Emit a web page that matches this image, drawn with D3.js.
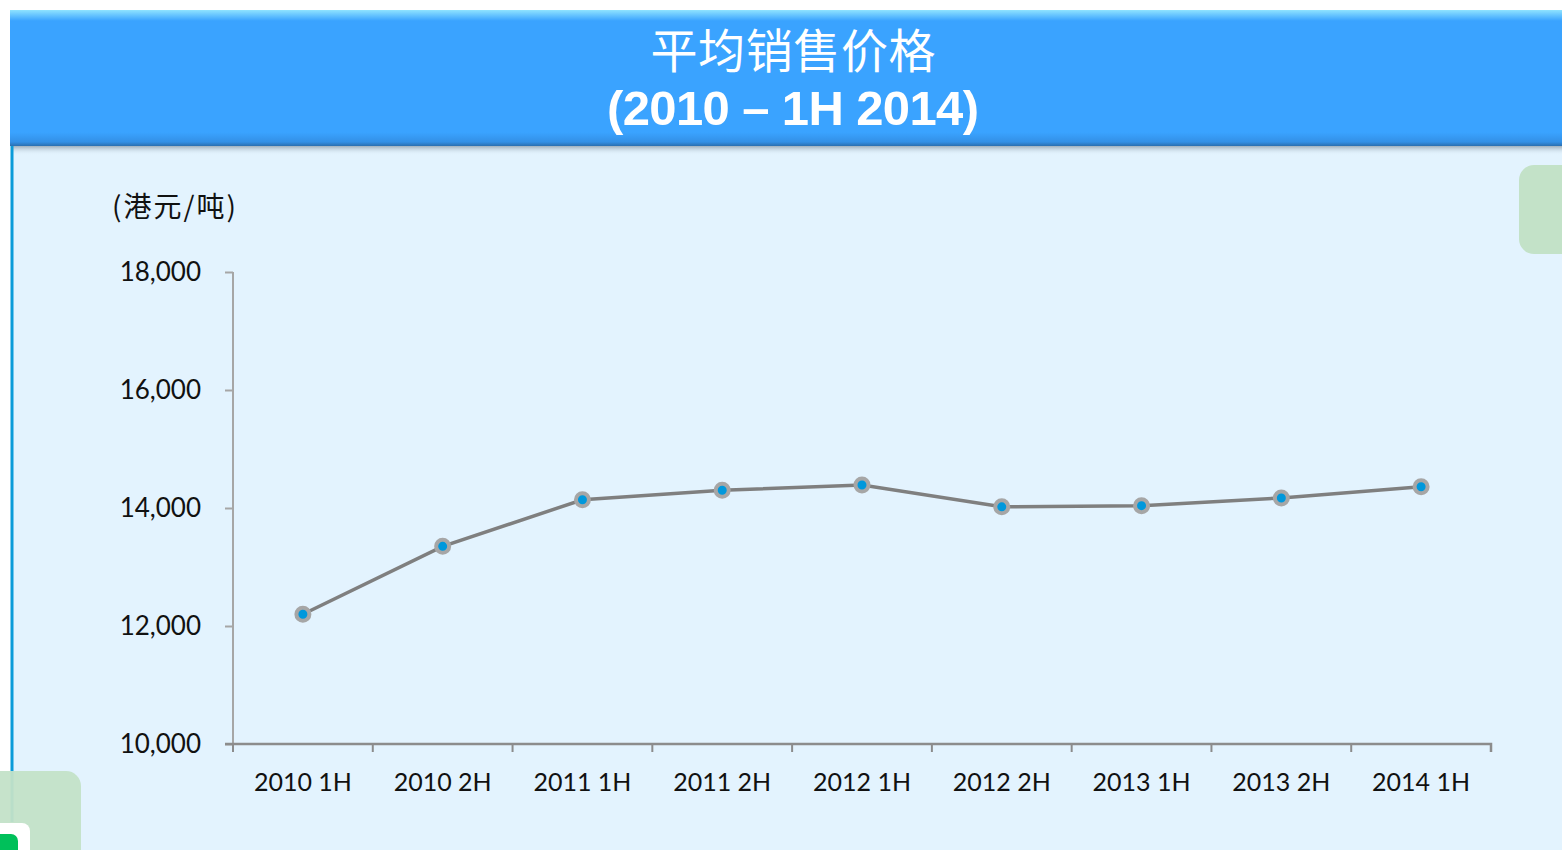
<!DOCTYPE html>
<html>
<head>
<meta charset="utf-8">
<script src="https://cdn.jsdelivr.net/npm/d3@7"></script>
<style>
  html, body { margin: 0; padding: 0; background: #fff; }
  svg { display: block; }
</style>
</head>
<body>
<script>
// data
const periods = ["2010 1H", "2010 2H", "2011 1H", "2011 2H", "2012 1H", "2012 2H", "2013 1H", "2013 2H", "2014 1H"];
const prices = [12200, 13350, 14140, 14300, 14390, 14020, 14040, 14170, 14360];
const yTicks = [10000, 12000, 14000, 16000, 18000];
const titleLines = ["平均销售价格", "(2010 – 1H 2014)"];
const unitLabel = "(港元/吨)";

const width = 1562;
const height = 850;
const plot = { left: 233, right: 1491, top: 272, bottom: 744 };

const svg = d3.select("body").append("svg")
  .attr("width", width)
  .attr("height", height);

const defs = svg.append("defs");
const grad = defs.append("linearGradient")
  .attr("id", "head").attr("x1", 0).attr("y1", 0).attr("x2", 0).attr("y2", 1);
grad.append("stop").attr("offset", "0").attr("stop-color", "#8fe3ff");
grad.append("stop").attr("offset", "0.08").attr("stop-color", "#3aa3ff");
grad.append("stop").attr("offset", "0.9").attr("stop-color", "#3aa3ff");
grad.append("stop").attr("offset", "0.97").attr("stop-color", "#3390e6");
grad.append("stop").attr("offset", "1").attr("stop-color", "#2a6fb0");

const shadow = defs.append("linearGradient")
  .attr("id", "shade").attr("x1", 0).attr("y1", 0).attr("x2", 0).attr("y2", 1);
shadow.append("stop").attr("offset", "0").attr("stop-color", "#7a8a99").attr("stop-opacity", 0.8);
shadow.append("stop").attr("offset", "1").attr("stop-color", "#e3f3fe").attr("stop-opacity", 0);

// panel background
svg.append("rect")
  .attr("x", 12).attr("y", 140).attr("width", width - 12).attr("height", height - 140)
  .attr("fill", "#e3f3fe");

svg.append("rect")
  .attr("x", 12).attr("y", 145).attr("width", width - 12).attr("height", 10)
  .attr("fill", "url(#shade)");

svg.append("line")
  .attr("x1", 12).attr("x2", 12).attr("y1", 145).attr("y2", 822)
  .attr("stroke", "#0a9bd9").attr("stroke-width", 3);

// decorative corner blocks
svg.append("rect")
  .attr("x", 1519).attr("y", 165).attr("width", 80).attr("height", 89).attr("rx", 15)
  .attr("fill", "#c3e2c8");
svg.append("rect")
  .attr("x", -30).attr("y", 771).attr("width", 111).attr("height", 110).attr("rx", 15)
  .attr("fill", "#c3e2c8").attr("fill-opacity", 0.95);
svg.append("rect")
  .attr("x", -20).attr("y", 823).attr("width", 50).attr("height", 50).attr("rx", 8)
  .attr("fill", "#ffffff");
svg.append("rect")
  .attr("x", -20).attr("y", 834).attr("width", 38).attr("height", 40).attr("rx", 7)
  .attr("fill", "#00c05a");

// header bar
svg.append("rect")
  .attr("x", 10).attr("y", 10).attr("width", width - 10).attr("height", 136)
  .attr("fill", "url(#head)");

svg.append("text")
  .attr("x", 793).attr("y", 68)
  .attr("text-anchor", "middle")
  .attr("fill", "#fff")
  .style("font-family", "'Noto Sans CJK SC', sans-serif")
  .style("font-size", "47px")
  .attr("textLength", 285)
  .text(titleLines[0]);

svg.append("text")
  .attr("x", 793).attr("y", 125)
  .attr("text-anchor", "middle")
  .attr("fill", "#fff")
  .style("font-family", "'Liberation Sans', Arial, sans-serif")
  .style("font-weight", "bold")
  .style("font-size", "49px")
  .attr("textLength", 372)
  .text(titleLines[1]);

svg.append("text")
  .attr("x", 112).attr("y", 217)
  .attr("fill", "#111")
  .style("font-family", "'Noto Sans CJK SC', sans-serif")
  .style("font-size", "28px")
  .attr("textLength", 124)
  .text(unitLabel);

// scales
const x = d3.scaleBand().domain(periods).range([plot.left, plot.right]);
const y = d3.scaleLinear().domain([10000, 18000]).range([plot.bottom, plot.top]);

const yAxis = d3.axisLeft(y).tickValues(yTicks).tickFormat(d3.format(",")).tickSize(8).tickPadding(24);
const xAxis = d3.axisBottom(x).tickSize(0).tickPadding(29);

const gy = svg.append("g").attr("transform", `translate(${plot.left},0)`).call(yAxis);
gy.select(".domain").attr("stroke", "#a6a6a6").attr("stroke-width", 2)
  .attr("d", `M0,${plot.top}H0V${plot.bottom + 8}`);
gy.selectAll(".tick line").attr("stroke", "#a6a6a6").attr("stroke-width", 2);
gy.selectAll(".tick text")
  .attr("fill", "#111")
  .style("font-family", "Lato, 'Open Sans', sans-serif")
  .style("font-size", "26px");

const gx = svg.append("g").attr("transform", `translate(0,${plot.bottom})`).call(xAxis);
gx.select(".domain").attr("stroke", "#8c8c8c").attr("stroke-width", 2.5)
  .attr("d", `M${plot.left - 8},0H${plot.right}V8`);
gx.selectAll(".tick text")
  .attr("fill", "#111")
  .style("font-family", "Lato, 'Open Sans', sans-serif")
  .style("font-size", "25px");

// category boundary ticks
gx.selectAll("line.bound")
  .data(periods)
  .enter()
  .append("line")
  .attr("class", "bound")
  .attr("x1", (d) => x(d)).attr("x2", (d) => x(d))
  .attr("y1", 0).attr("y2", 8)
  .attr("stroke", "#8c8c8c").attr("stroke-width", 2);

// series
const cx = (d, i) => x(periods[i]) + x.bandwidth() / 2;
const line = d3.line().x((d, i) => cx(d, i)).y((d) => y(d));

svg.append("path")
  .datum(prices)
  .attr("d", line)
  .attr("fill", "none")
  .attr("stroke", "#7f7f7f")
  .attr("stroke-width", 3.5);

svg.selectAll("circle.pt")
  .data(prices)
  .enter()
  .append("circle")
  .attr("class", "pt")
  .attr("cx", cx)
  .attr("cy", (d) => y(d))
  .attr("r", 6.5)
  .attr("fill", "#0098dc")
  .attr("stroke", "#a6a6a6")
  .attr("stroke-width", 4);
</script>
</body>
</html>
